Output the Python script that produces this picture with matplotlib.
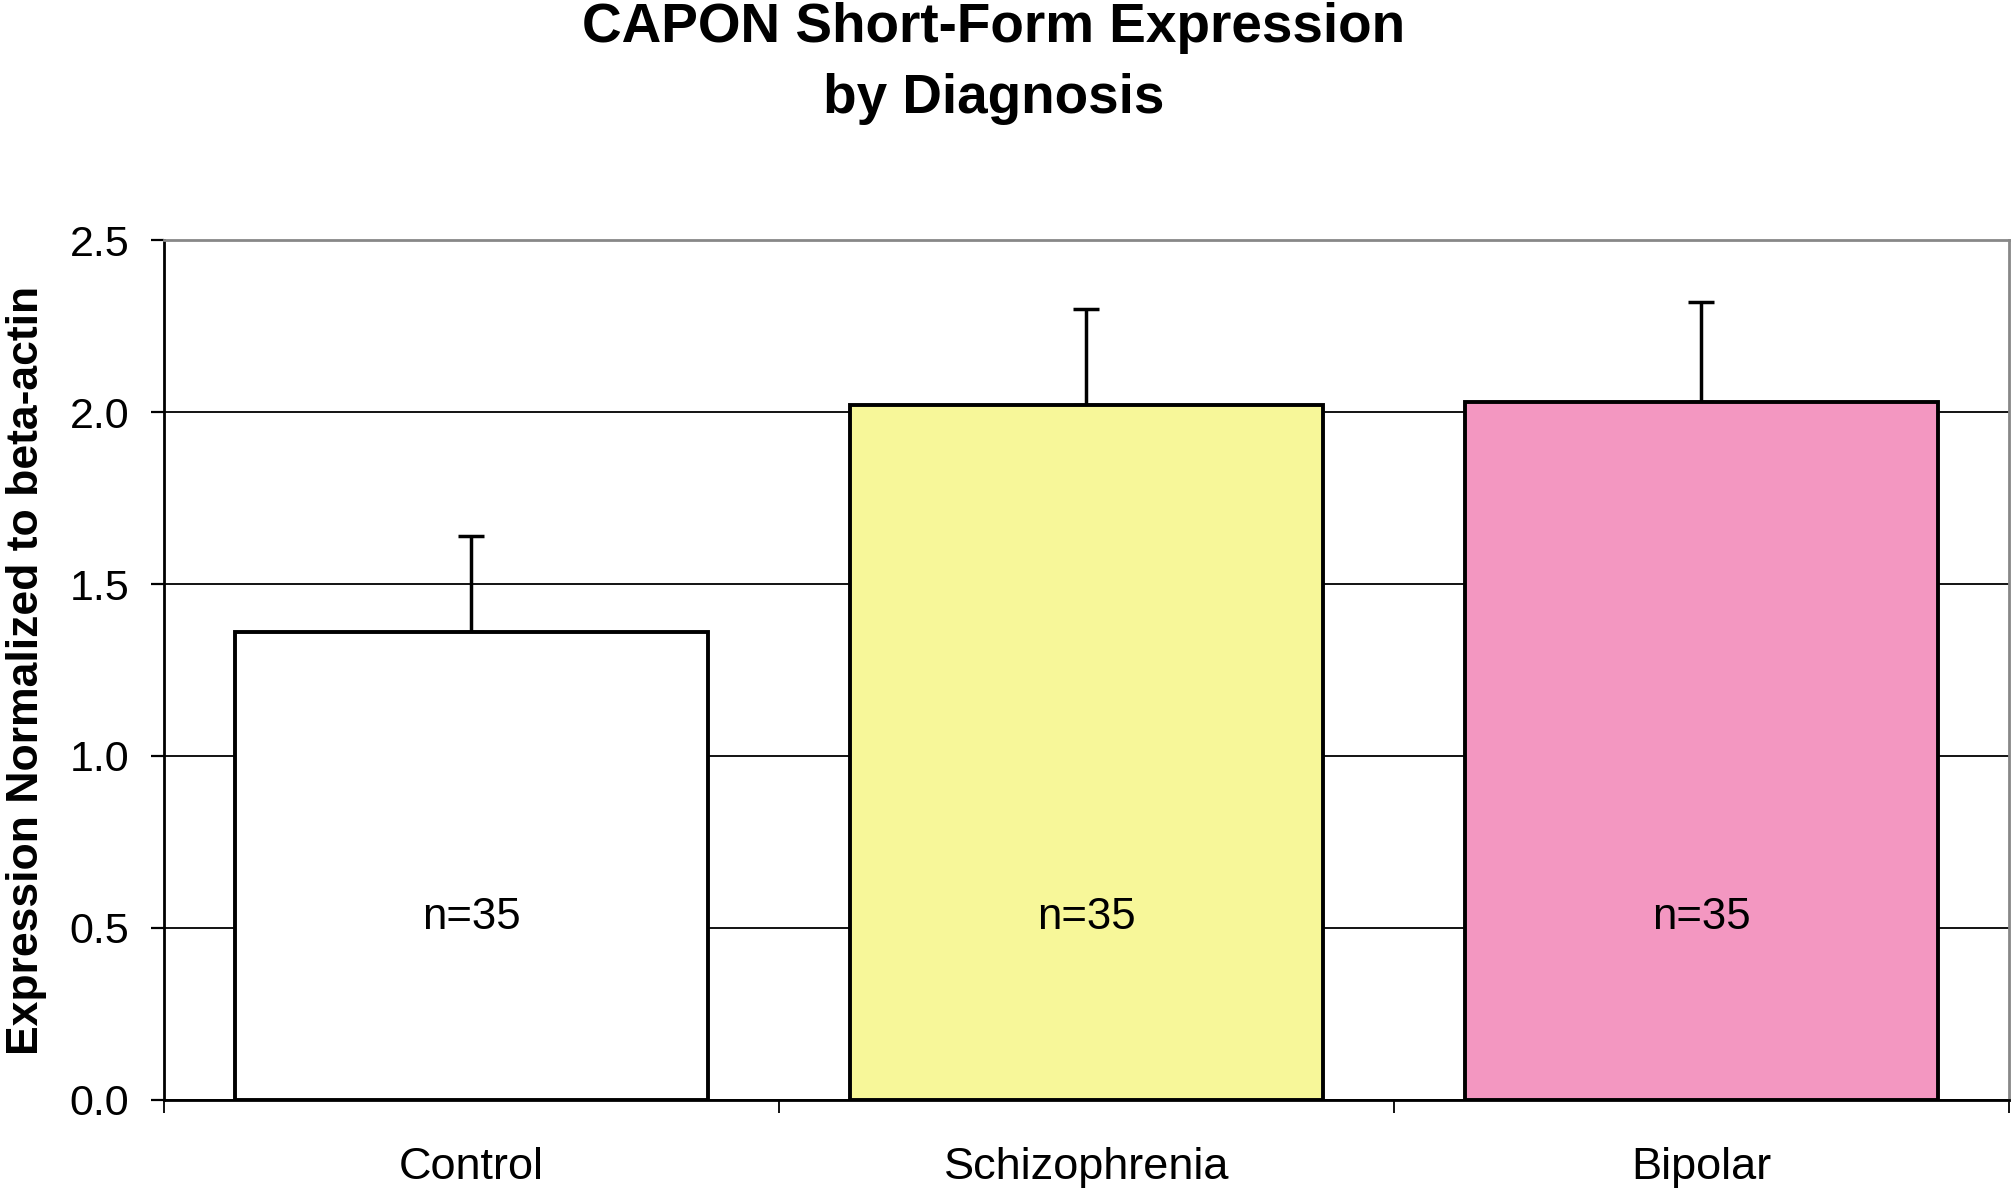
import matplotlib
matplotlib.use("Agg")
import matplotlib.pyplot as plt
from matplotlib.ticker import FixedLocator, NullFormatter

plt.rcParams['font.family'] = ['Liberation Sans', 'DejaVu Sans']

# ── data ─────────────────────────────────────────────
groups = ["Control", "Schizophrenia", "Bipolar"]
means = [1.36, 2.02, 2.03]
sem_up = [0.28, 0.28, 0.29]
n_per_group = [35, 35, 35]
bar_colors = ["#FFFFFF", "#F7F799", "#F397C1"]
yticks = [0.0, 0.5, 1.0, 1.5, 2.0, 2.5]

fig = plt.figure(figsize=(20.12, 11.89), dpi=100)
ax = fig.add_axes([0.0815, 0.075, 0.917, 0.723])

x = list(range(len(groups)))
ax.bar(x, means, width=0.77, color=bar_colors, edgecolor="black",
       linewidth=2.8, zorder=3)
ax.errorbar(x, means, yerr=[[0] * len(means), sem_up], fmt="none",
            ecolor="black", elinewidth=2.5, capsize=9.5, capthick=2.5,
            zorder=2)

for xi, n in zip(x, n_per_group):
    ax.text(xi, 0.53, f"n={n}", ha="center", va="center", fontsize=31.5,
            zorder=4)

ax.set_xlim(-0.5, len(groups) - 0.5)
ax.set_ylim(0, 2.5)
ax.set_yticks(yticks)
ax.set_yticklabels([f"{v:.1f}" for v in yticks])
ax.yaxis.grid(True, color="black", linewidth=1.3, zorder=0)
ax.set_axisbelow(True)

ax.set_xticks(x)
ax.set_xticklabels(groups)
ax.xaxis.set_minor_locator(FixedLocator([i - 0.5 for i in range(len(groups) + 1)]))
ax.xaxis.set_minor_formatter(NullFormatter())
ax.tick_params(axis="x", which="major", length=0, pad=34, labelsize=32.5)
ax.tick_params(axis="x", which="minor", length=9.5, width=1.3, direction="out")
ax.tick_params(axis="y", length=9.5, width=1.6, direction="out", pad=15.5,
               labelsize=31)

for side in ("left", "bottom"):
    ax.spines[side].set_color("black")
    ax.spines[side].set_linewidth(2.0)
for side in ("top", "right"):
    ax.spines[side].set_color("#888888")
    ax.spines[side].set_linewidth(2.0)

ax.set_ylabel("Expression Normalized to beta-actin", fontsize=32,
              fontweight="bold", labelpad=16)
fig.suptitle("CAPON Short-Form Expression\nby Diagnosis", fontsize=39.5,
             fontweight="bold", x=0.494, y=0.998, va="top", linespacing=1.47)

fig.savefig("out.png", dpi=100, facecolor="white")
